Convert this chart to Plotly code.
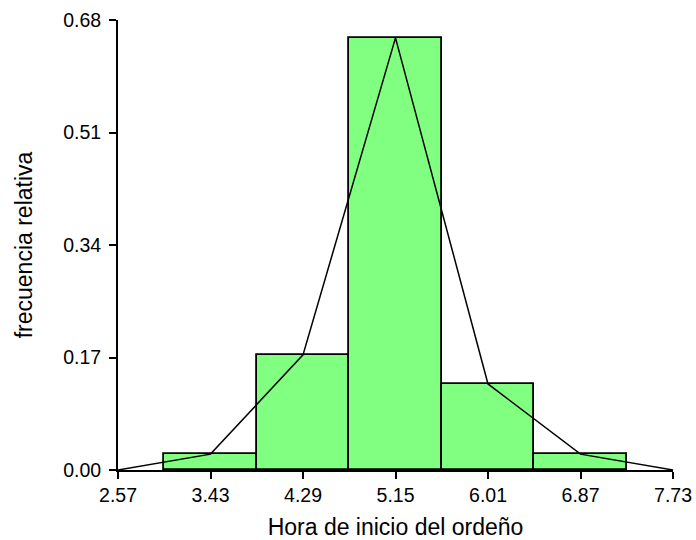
import plotly.graph_objects as go

midpoints = [3.43, 4.29, 5.15, 6.01, 6.87]
rel_freq = [0.024, 0.174, 0.653, 0.130, 0.024]
poly_x = [2.57, 3.43, 4.29, 5.15, 6.01, 6.87, 7.73]
poly_y = [0.0, 0.024, 0.174, 0.653, 0.130, 0.024, 0.0]
x_ticks = [2.57, 3.43, 4.29, 5.15, 6.01, 6.87, 7.73]
y_ticks = [0.00, 0.17, 0.34, 0.51, 0.68]
bin_width = 0.86

fig = go.Figure()
fig.add_trace(go.Bar(
    x=midpoints, y=rel_freq, width=bin_width,
    marker=dict(color="#80FF80", line=dict(color="black", width=1.8)),
    showlegend=False, hoverinfo="x+y"))
fig.add_trace(go.Scatter(
    x=poly_x, y=poly_y, mode="lines",
    line=dict(color="black", width=1.5), showlegend=False))

font = dict(family="Liberation Sans, Arial, sans-serif", color="black")
fig.update_layout(
    width=696, height=540,
    margin=dict(l=118, r=23, t=20, b=70, autoexpand=False),
    plot_bgcolor="white", paper_bgcolor="white",
    font=dict(**font, size=19),
    bargap=0,
    xaxis=dict(
        range=[2.57, 7.73], tickvals=x_ticks,
        ticktext=[f"{v:.2f}" for v in x_ticks],
        showline=True, linecolor="black", linewidth=2,
        ticks="outside", ticklen=7, tickwidth=2, tickcolor="black",
        showgrid=False, zeroline=False, automargin=False,
        title=dict(text="Hora de inicio del ordeño", font=dict(size=23), standoff=15),
        tickfont=dict(size=19.5)),
    yaxis=dict(
        range=[0, 0.68], tickvals=y_ticks,
        ticktext=[f"{v:.2f}" for v in y_ticks],
        showline=True, linecolor="black", linewidth=2,
        ticks="outside", ticklen=7, tickwidth=2, tickcolor="black",
        showgrid=False, zeroline=False, automargin=False,
        ticklabelstandoff=4,
        title=dict(text="frecuencia relativa", font=dict(size=23), standoff=24),
        tickfont=dict(size=19.5)),
)
fig.write_html(
    "out.html",
    config={"displayModeBar": False},
    post_script="document.body.style.margin='0';document.body.style.overflow='hidden';",
)
